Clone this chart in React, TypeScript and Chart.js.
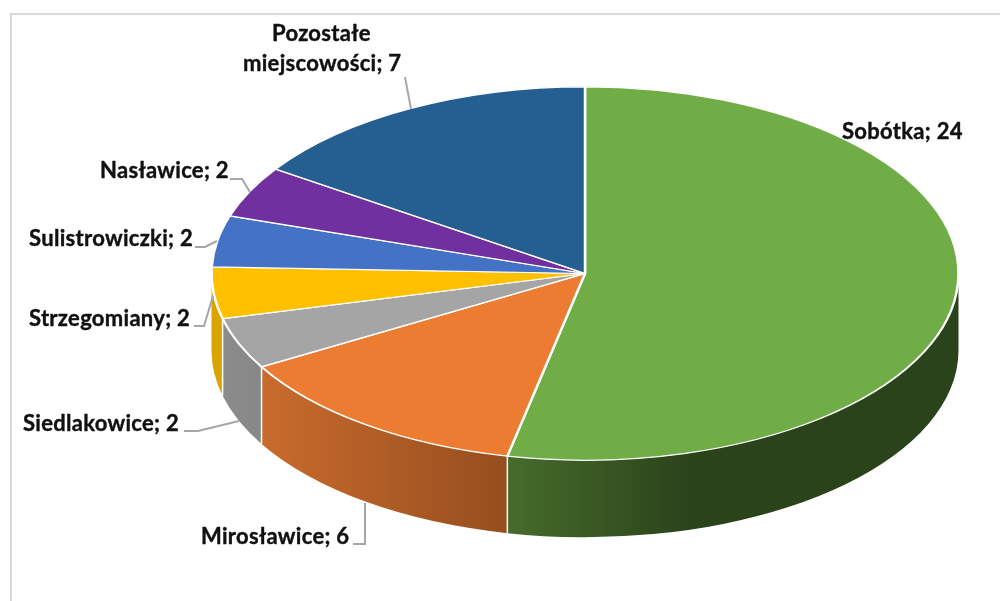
import React, { useEffect, useRef } from "react";
import Chart from "chart.js/auto";

const categories = ["Sobótka", "Mirosławice", "Siedlakowice", "Strzegomiany", "Sulistrowiczki", "Nasławice", "Pozostałe miejscowości"];
const values = [24, 6, 2, 2, 2, 2, 7];
const topColors = ["#70AD47", "#EC7C31", "#A5A5A5", "#FFC000", "#4472C4", "#7030A0", "#255E91"];
const wallStart = ["#466C2C", "#C96B2D", "#8C8C8C", "#D9A300", "#4472C4", "#7030A0", "#255E91"];
const wallEnd = ["#2B431A", "#964E1E", "#878787", "#D9A300", "#4472C4", "#7030A0", "#255E91"];

const SQUASH = 0.5;
const DEPTH = 77;
const FONT = "bold 22px Lato";

type Lbl = { lines: string[]; x: number[]; y: number[] };
const labelPlacement: Lbl[] = [
  { lines: [`${categories[0]}; ${values[0]}`], x: [842], y: [139] },
  { lines: [`${categories[1]}; ${values[1]}`], x: [201], y: [544] },
  { lines: [`${categories[2]}; ${values[2]}`], x: [23], y: [431] },
  { lines: [`${categories[3]}; ${values[3]}`], x: [29], y: [326] },
  { lines: [`${categories[4]}; ${values[4]}`], x: [29], y: [246] },
  { lines: [`${categories[5]}; ${values[5]}`], x: [100], y: [178] },
  { lines: ["Pozostałe", `miejscowości; ${values[6]}`], x: [272, 243], y: [41, 71] },
];
const leaders: number[][][] = [
  [[405, 77], [411, 109]],
  [[230, 179], [242, 179], [250, 192]],
  [[195, 247], [205, 247], [217, 241]],
  [[194, 326], [204, 326], [213, 296]],
  [[184, 431], [198, 431], [239, 421]],
  [[353, 544], [365, 544], [365, 503]],
];

const pie3d = {
  id: "pie3d",
  beforeDraw(chart: any) {
    const { ctx } = chart;
    ctx.save();
    ctx.strokeStyle = "#D9D9D9";
    ctx.lineWidth = 2;
    ctx.beginPath();
    ctx.moveTo(11, 601);
    ctx.lineTo(11, 14);
    ctx.lineTo(1000, 14);
    ctx.stroke();
    ctx.restore();
  },
  beforeDatasetsDraw(chart: any) {
    const { ctx } = chart;
    const arcs = chart.getDatasetMeta(0).data;
    const { x: cx, y: cy, outerRadius: rx } = arcs[0];
    const ry = rx * SQUASH;
    ctx.save();
    arcs.forEach((arc: any, i: number) => {
      const a = Math.max(arc.startAngle, 0);
      const b = Math.min(arc.endAngle, Math.PI);
      if (b <= a) return;
      const xa = cx + rx * Math.cos(a);
      const xb = cx + rx * Math.cos(b);
      const grad = ctx.createLinearGradient(Math.min(xa, xb), 0, i === 0 ? 690 : Math.max(xa, xb), 0);
      grad.addColorStop(0, wallStart[i]);
      grad.addColorStop(1, wallEnd[i]);
      ctx.beginPath();
      ctx.ellipse(cx, cy, rx, ry, 0, a, b);
      ctx.ellipse(cx, cy + DEPTH, rx, ry, 0, b, a, true);
      ctx.closePath();
      ctx.fillStyle = grad;
      ctx.fill();
      if (a > 0) {
        const ya = cy + ry * Math.sin(a);
        ctx.strokeStyle = "#FFFFFF";
        ctx.lineWidth = 1.5;
        ctx.beginPath();
        ctx.moveTo(xa, ya);
        ctx.lineTo(xa, ya + DEPTH);
        ctx.stroke();
      }
    });
    ctx.restore();
    ctx.save();
    ctx.translate(cx, cy);
    ctx.scale(1, SQUASH);
    ctx.translate(-cx, -cy);
  },
  afterDatasetsDraw(chart: any) {
    const { ctx } = chart;
    ctx.restore();
    ctx.save();
    ctx.strokeStyle = "#A6A6A6";
    ctx.lineWidth = 2;
    leaders.forEach((pts) => {
      ctx.beginPath();
      pts.forEach(([x, y], k) => (k ? ctx.lineTo(x, y) : ctx.moveTo(x, y)));
      ctx.stroke();
    });
    ctx.fillStyle = "#111111";
    ctx.strokeStyle = "#111111";
    ctx.lineWidth = 0.4;
    ctx.font = FONT;
    ctx.letterSpacing = "0.3px";
    ctx.textAlign = "left";
    ctx.textBaseline = "alphabetic";
    labelPlacement.forEach((l) => {
      l.lines.forEach((t, k) => {
        ctx.fillText(t, l.x[k], l.y[k]);
        ctx.strokeText(t, l.x[k], l.y[k]);
      });
    });
    ctx.letterSpacing = "0px";
    ctx.restore();
  },
};

export default function App() {
  const ref = useRef<HTMLCanvasElement>(null);
  useEffect(() => {
    const chart = new Chart(ref.current as HTMLCanvasElement, {
      type: "pie",
      data: {
        labels: categories,
        datasets: [
          {
            data: values,
            backgroundColor: topColors,
            borderColor: "#FFFFFF",
            borderWidth: 2.5,
            radius: 373.5,
            clip: false,
          } as any,
        ],
      },
      options: {
        responsive: false,
        animation: false,
        events: [],
        layout: { padding: { left: 170, top: 0, right: 0, bottom: 54 } },
        plugins: { legend: { display: false }, tooltip: { enabled: false } },
      },
      plugins: [pie3d],
    });
    return () => chart.destroy();
  }, []);
  return (
    <div style={{ position: "fixed", left: 0, top: 0, width: 1000, height: 601, background: "#fff" }}>
      <canvas ref={ref} width={1000} height={601} style={{ display: "block", filter: "blur(0.4px)" }} />
    </div>
  );
}
